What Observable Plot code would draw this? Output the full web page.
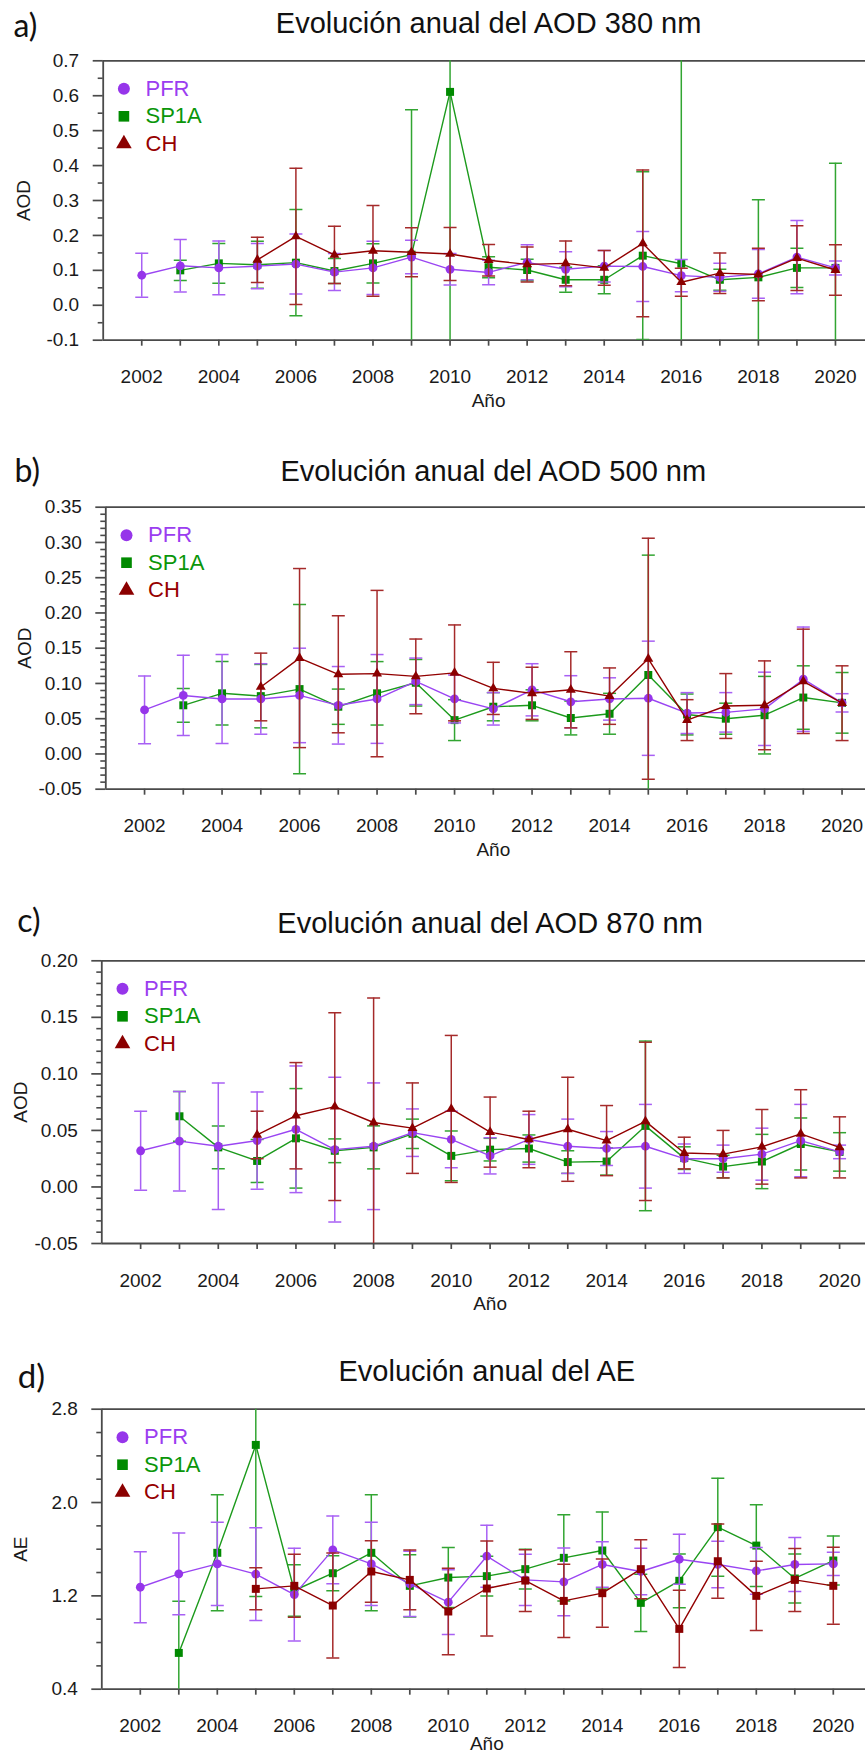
<!DOCTYPE html>
<html lang="es">
<head>
<meta charset="utf-8">
<title>Evolución anual del AOD y del AE</title>
<script src="https://cdn.jsdelivr.net/npm/d3@7"></script>
<script src="https://cdn.jsdelivr.net/npm/@observablehq/plot@0.6"></script>
<style>
  html, body { margin: 0; padding: 0; background: #fff; }
  #charts { width: 865px; }
  #charts svg { display: block; }
</style>
</head>
<body>
<div id="charts"></div>
<script>
// ---- Data: annual means and standard deviations per instrument ----
const years = [2002, 2003, 2004, 2005, 2006, 2007, 2008, 2009, 2010, 2011,
               2012, 2013, 2014, 2015, 2016, 2017, 2018, 2019, 2020];
const seriesNames = ["PFR", "SP1A", "CH"];

// AOD 380 nm
const pfr380     = [0.086, 0.113, 0.107, 0.112, 0.118, 0.095, 0.107, 0.138, 0.103, 0.094, 0.123, 0.103, 0.112, 0.111, 0.085, 0.080, 0.090, 0.138, 0.107];
const pfr380Sd   = [0.063, 0.075, 0.077, 0.065, 0.086, 0.053, 0.076, 0.048, 0.045, 0.035, 0.050, 0.050, 0.045, 0.100, 0.046, 0.040, 0.070, 0.105, 0.020];
const sp1a380    = [null, 0.100, 0.120, 0.116, 0.122, 0.098, 0.120, 0.145, 0.611, 0.109, 0.101, 0.073, 0.073, 0.142, 0.119, 0.073, 0.080, 0.107, 0.107];
const sp1a380Sd  = [null, 0.029, 0.057, 0.067, 0.152, 0.036, 0.056, 0.415, 0.900, 0.030, 0.031, 0.036, 0.040, 0.240, 0.750, 0.030, 0.222, 0.056, 0.300];
const ch380      = [null, null, null, 0.130, 0.197, 0.144, 0.156, 0.152, 0.147, 0.129, 0.117, 0.120, 0.107, 0.177, 0.066, 0.092, 0.088, 0.135, 0.101];
const ch380Sd    = [null, null, null, 0.065, 0.195, 0.082, 0.130, 0.070, 0.076, 0.045, 0.050, 0.064, 0.050, 0.210, 0.040, 0.058, 0.075, 0.093, 0.072];

// AOD 500 nm
const pfr500     = [0.0625, 0.083, 0.078, 0.078, 0.083, 0.069, 0.078, 0.103, 0.078, 0.064, 0.091, 0.074, 0.078, 0.079, 0.058, 0.059, 0.064, 0.106, 0.0725];
const pfr500Sd   = [0.048, 0.057, 0.063, 0.050, 0.067, 0.055, 0.063, 0.033, 0.034, 0.023, 0.037, 0.037, 0.030, 0.081, 0.029, 0.028, 0.052, 0.074, 0.013];
const sp1a500    = [null, 0.069, 0.086, 0.082, 0.092, 0.067, 0.086, 0.101, 0.048, 0.067, 0.069, 0.051, 0.057, 0.112, 0.056, 0.050, 0.055, 0.080, 0.0725];
const sp1a500Sd  = [null, 0.024, 0.045, 0.045, 0.120, 0.025, 0.045, 0.033, 0.029, 0.020, 0.022, 0.024, 0.029, 0.170, 0.029, 0.022, 0.055, 0.045, 0.043];
const ch500      = [null, null, null, 0.095, 0.136, 0.113, 0.114, 0.110, 0.115, 0.093, 0.086, 0.091, 0.082, 0.135, 0.048, 0.068, 0.069, 0.103, 0.072];
const ch500Sd    = [null, null, null, 0.048, 0.127, 0.083, 0.118, 0.053, 0.068, 0.037, 0.037, 0.054, 0.040, 0.171, 0.029, 0.046, 0.063, 0.074, 0.053];

// AOD 870 nm
const pfr870     = [0.032, 0.0405, 0.036, 0.041, 0.051, 0.033, 0.036, 0.048, 0.042, 0.0275, 0.042, 0.036, 0.034, 0.036, 0.025, 0.025, 0.029, 0.041, 0.031];
const pfr870Sd   = [0.035, 0.044, 0.056, 0.043, 0.056, 0.064, 0.056, 0.021, 0.025, 0.016, 0.022, 0.024, 0.015, 0.037, 0.013, 0.012, 0.023, 0.032, 0.006];
const sp1a870    = [null, 0.0625, 0.035, 0.023, 0.043, 0.032, 0.035, 0.047, 0.0275, 0.033, 0.034, 0.022, 0.0225, 0.054, 0.0255, 0.018, 0.0225, 0.038, 0.031];
const sp1a870Sd  = [null, 0.022, 0.019, 0.019, 0.044, 0.0105, 0.019, 0.013, 0.022, 0.010, 0.012, 0.010, 0.012, 0.075, 0.010, 0.010, 0.024, 0.023, 0.017];
const ch870      = [null, null, null, 0.046, 0.063, 0.071, 0.057, 0.052, 0.069, 0.0485, 0.042, 0.051, 0.041, 0.058, 0.030, 0.029, 0.0355, 0.047, 0.035];
const ch870Sd    = [null, null, null, 0.021, 0.047, 0.083, 0.110, 0.040, 0.065, 0.031, 0.025, 0.046, 0.031, 0.070, 0.014, 0.021, 0.033, 0.039, 0.027];

// Ångström exponent
const pfrAE      = [1.274, 1.389, 1.474, 1.386, 1.211, 1.594, 1.474, 1.303, 1.146, 1.540, 1.337, 1.320, 1.469, 1.409, 1.514, 1.469, 1.414, 1.469, 1.474];
const pfrAESd    = [0.305, 0.350, 0.357, 0.397, 0.397, 0.290, 0.357, 0.280, 0.277, 0.266, 0.220, 0.290, 0.195, 0.200, 0.215, 0.200, 0.200, 0.232, 0.100];
const sp1aAE     = [null, 0.711, 1.569, 2.494, 1.246, 1.394, 1.569, 1.286, 1.357, 1.369, 1.429, 1.526, 1.589, 1.140, 1.329, 1.789, 1.631, 1.349, 1.503];
const sp1aAESd   = [null, 0.443, 0.497, 1.300, 0.220, 0.150, 0.497, 0.267, 0.257, 0.170, 0.170, 0.370, 0.330, 0.245, 0.230, 0.420, 0.350, 0.210, 0.210];
const chAE       = [null, null, null, 1.260, 1.286, 1.117, 1.409, 1.337, 1.066, 1.263, 1.331, 1.157, 1.223, 1.429, 0.917, 1.497, 1.200, 1.337, 1.286];
const chAESd     = [null, null, null, 0.180, 0.270, 0.450, 0.263, 0.257, 0.370, 0.407, 0.265, 0.313, 0.293, 0.253, 0.332, 0.318, 0.297, 0.270, 0.330];

// Axis tick labels
const yearTicks  = years;
const ticks380   = [-0.1, 0.0, 0.1, 0.2, 0.3, 0.4, 0.5, 0.6, 0.7];
const ticks500   = [-0.05, 0.00, 0.05, 0.10, 0.15, 0.20, 0.25, 0.30, 0.35];
const ticks870   = [-0.05, 0.00, 0.05, 0.10, 0.15, 0.20];
const ticksAE    = [0.4, 1.2, 2.0, 2.8];

// ---- Styling ----
const FONT = "'Liberation Sans', Arial, Helvetica, sans-serif";
const AXIS_STROKE = "#4a4a4a";
const styles = {
  PFR:  {mark: "#9635ea", line: "#9a45f2", bar: "#a860f4", text: "#9b3df0", symbol: "circle",   r: 4.4},
  SP1A: {mark: "#008a00", line: "#1c9a1c", bar: "#32a532", text: "#0a960a", symbol: "square",   r: 4.5},
  CH:   {mark: "#8b0000", line: "#920000", bar: "#a52a2a", text: "#960000", symbol: "triangle", r: 3.7}
};

// Horizontal cap used at the ends of the error bars (half-width = r)
const capSymbol = {
  draw(context, size) {
    const w = Math.sqrt(size / Math.PI);
    context.moveTo(-w, 0);
    context.lineTo(w, 0);
  }
};

function rows(values, sds, name) {
  return years
    .map((year, i) => ({year, value: values[i], sd: sds[i], name}))
    .filter((d) => d.value != null);
}

function seriesMarks(data, name, symbolOverride) {
  const s = styles[name];
  const lo = (d) => d.value - d.sd;
  const hi = (d) => d.value + d.sd;
  const symbol = symbolOverride ?? s.symbol;
  const r = symbol === "square" ? styles.SP1A.r : s.r;
  return [
    Plot.ruleX(data, {x: "year", y1: lo, y2: hi, stroke: s.bar, strokeWidth: 1.5, clip: true}),
    Plot.dot(data, {x: "year", y: lo, symbol: capSymbol, r: 6.5, stroke: s.bar, strokeWidth: 1.5, fill: "none", clip: true}),
    Plot.dot(data, {x: "year", y: hi, symbol: capSymbol, r: 6.5, stroke: s.bar, strokeWidth: 1.5, fill: "none", clip: true}),
    Plot.line(data, {x: "year", y: "value", stroke: s.line, strokeWidth: 1.4}),
    Plot.dot(data, {x: "year", y: "value", symbol, r, fill: s.mark, stroke: "none"})
  ];
}

function legendMarks() {
  const marks = [];
  seriesNames.forEach((name, i) => {
    const s = styles[name];
    const dy = 28 + i * 27.5;
    marks.push(Plot.dot([name], {frameAnchor: "top-left", dx: 20.7, dy, symbol: s.symbol,
      r: s.symbol === "triangle" ? 5.8 : 6, fill: s.mark, stroke: "none"}));
    marks.push(Plot.text([name], {frameAnchor: "top-left", dx: 42.3, dy, text: (d) => d,
      fill: s.text, fontSize: 22, textAnchor: "start", lineAnchor: "middle"}));
  });
  return marks;
}

function panel(cfg) {
  const width = 865;
  const marginTop = cfg.plotTop - cfg.top;
  const marginBottom = cfg.top + cfg.height - cfg.plotBottom;
  const xEnd = 2001 + (width - cfg.axisX) / cfg.perYear;
  const [y0, y1] = cfg.yDomain;
  const fmt = (v) => v.toFixed(cfg.digits);
  const minors = d3.range(Math.round((y1 - y0) / cfg.minorStep) + 1)
    .map((i) => +(y0 + i * cfg.minorStep).toFixed(4))
    .filter((v) => !cfg.majors.some((m) => Math.abs(m - v) < 1e-9));

  const order = ["SP1A", "PFR", "CH"];
  const dataMarks = order.flatMap((name) =>
    seriesMarks(rows(cfg.values[name], cfg.sds[name], name), name, name === "CH" ? cfg.chSymbol : undefined));

  return Plot.plot({
    width,
    height: cfg.height,
    marginTop,
    marginBottom,
    marginLeft: cfg.axisX,
    marginRight: 0,
    style: {fontFamily: FONT, fontSize: "19px", color: "#1a1a1a", background: "#fff"},
    x: {domain: [2001, xEnd], label: null},
    y: {domain: cfg.yDomain, label: null},
    marks: [
      // y axis: major ticks with labels, minor ticks without
      Plot.axisY({ticks: minors, tickSize: 5, tickFormat: () => "", label: null,
        stroke: AXIS_STROKE, strokeWidth: 1.6}),
      Plot.axisY({ticks: cfg.majors, tickSize: 10, tickPadding: 14, tickFormat: fmt, label: null,
        stroke: AXIS_STROKE, strokeWidth: 1.7, fill: "#1a1a1a", fontSize: 19}),
      // x axis: one tick per year, labels on even years
      Plot.axisX({ticks: yearTicks, tickSize: 6, tickPadding: 23.6, label: null,
        tickFormat: (d) => (d % 2 === 0 ? String(d) : ""),
        stroke: AXIS_STROKE, strokeWidth: 1.7, fill: "#1a1a1a", fontSize: 19}),
      // frame: top, bottom and left lines
      Plot.ruleY([y0, y1], {stroke: AXIS_STROKE, strokeWidth: 1.8}),
      Plot.ruleX([2001], {stroke: AXIS_STROKE, strokeWidth: 1.8}),
      ...dataMarks,
      ...legendMarks(),
      // axis titles
      Plot.text([cfg.yLabel], {frameAnchor: "left", dx: cfg.yLabelX - cfg.axisX, rotate: -90,
        text: (d) => d, textAnchor: "middle", lineAnchor: "middle", fontSize: 19, fill: "#1a1a1a"}),
      Plot.text(["Año"], {x: () => 2011, frameAnchor: "bottom", dy: cfg.xLabelDy ?? 66.3, text: (d) => d,
        textAnchor: "middle", lineAnchor: "bottom", fontSize: 19, fill: "#1a1a1a"}),
      // panel title and letter
      Plot.text([cfg.title], {x: () => 2011, frameAnchor: "top", dy: cfg.titleBaseline - cfg.plotTop,
        text: (d) => d, textAnchor: "middle", lineAnchor: "bottom", fontSize: 29, fill: "#111"}),
      Plot.text([cfg.label], {frameAnchor: "top-left", dx: cfg.labelX - cfg.axisX, dy: cfg.labelBaseline - cfg.plotTop,
        text: (d) => d, textAnchor: "start", lineAnchor: "bottom", fontSize: cfg.labelSize,
        fontFamily: "Lato, 'Open Sans', sans-serif", fill: "#111"})
    ]
  });
}

const panels = [
  {label: "a)", title: "Evolución anual del AOD 380 nm", yLabel: "AOD",
   top: 0, height: 440, plotTop: 60.3, plotBottom: 339.7, axisX: 102.7, perYear: 38.54,
   yDomain: [-0.1, 0.7], majors: ticks380, minorStep: 0.05, digits: 1,
   labelX: 13, labelBaseline: 36.7, titleBaseline: 32.7, yLabelX: 23.3, labelSize: 32,
   values: {PFR: pfr380, SP1A: sp1a380, CH: ch380}, sds: {PFR: pfr380Sd, SP1A: sp1a380Sd, CH: ch380Sd}},
  {label: "b)", title: "Evolución anual del AOD 500 nm", yLabel: "AOD",
   top: 440, height: 455, plotTop: 506.7, plotBottom: 788.7, axisX: 105.3, perYear: 38.75,
   yDomain: [-0.05, 0.35], majors: ticks500, minorStep: 0.01, digits: 2,
   labelX: 14, labelBaseline: 481.7, titleBaseline: 480, yLabelX: 24, labelSize: 32,
   values: {PFR: pfr500, SP1A: sp1a500, CH: ch500}, sds: {PFR: pfr500Sd, SP1A: sp1a500Sd, CH: ch500Sd}},
  {label: "c)", title: "Evolución anual del AOD 870 nm", yLabel: "AOD",
   top: 895, height: 445, plotTop: 960.3, plotBottom: 1243, axisX: 101.3, perYear: 38.83,
   yDomain: [-0.05, 0.20], majors: ticks870, minorStep: 0.01, digits: 2,
   labelX: 16.7, labelBaseline: 931.7, titleBaseline: 932.3, yLabelX: 20, labelSize: 32,
   values: {PFR: pfr870, SP1A: sp1a870, CH: ch870}, sds: {PFR: pfr870Sd, SP1A: sp1a870Sd, CH: ch870Sd}},
  {label: "d)", title: "Evolución anual del AE", yLabel: "AE",
   top: 1340, height: 415, plotTop: 1408.7, plotBottom: 1688.7, axisX: 101.3, perYear: 38.5,
   yDomain: [0.4, 2.8], majors: ticksAE, minorStep: 0.2, digits: 1, chSymbol: "square",
   labelX: 17.3, labelBaseline: 1387.3, titleBaseline: 1380.7, yLabelX: 20, labelSize: 33, xLabelDy: 61,
   values: {PFR: pfrAE, SP1A: sp1aAE, CH: chAE}, sds: {PFR: pfrAESd, SP1A: sp1aAESd, CH: chAESd}}
];

const container = document.getElementById("charts");
for (const cfg of panels) container.appendChild(panel(cfg));
</script>
</body>
</html>
